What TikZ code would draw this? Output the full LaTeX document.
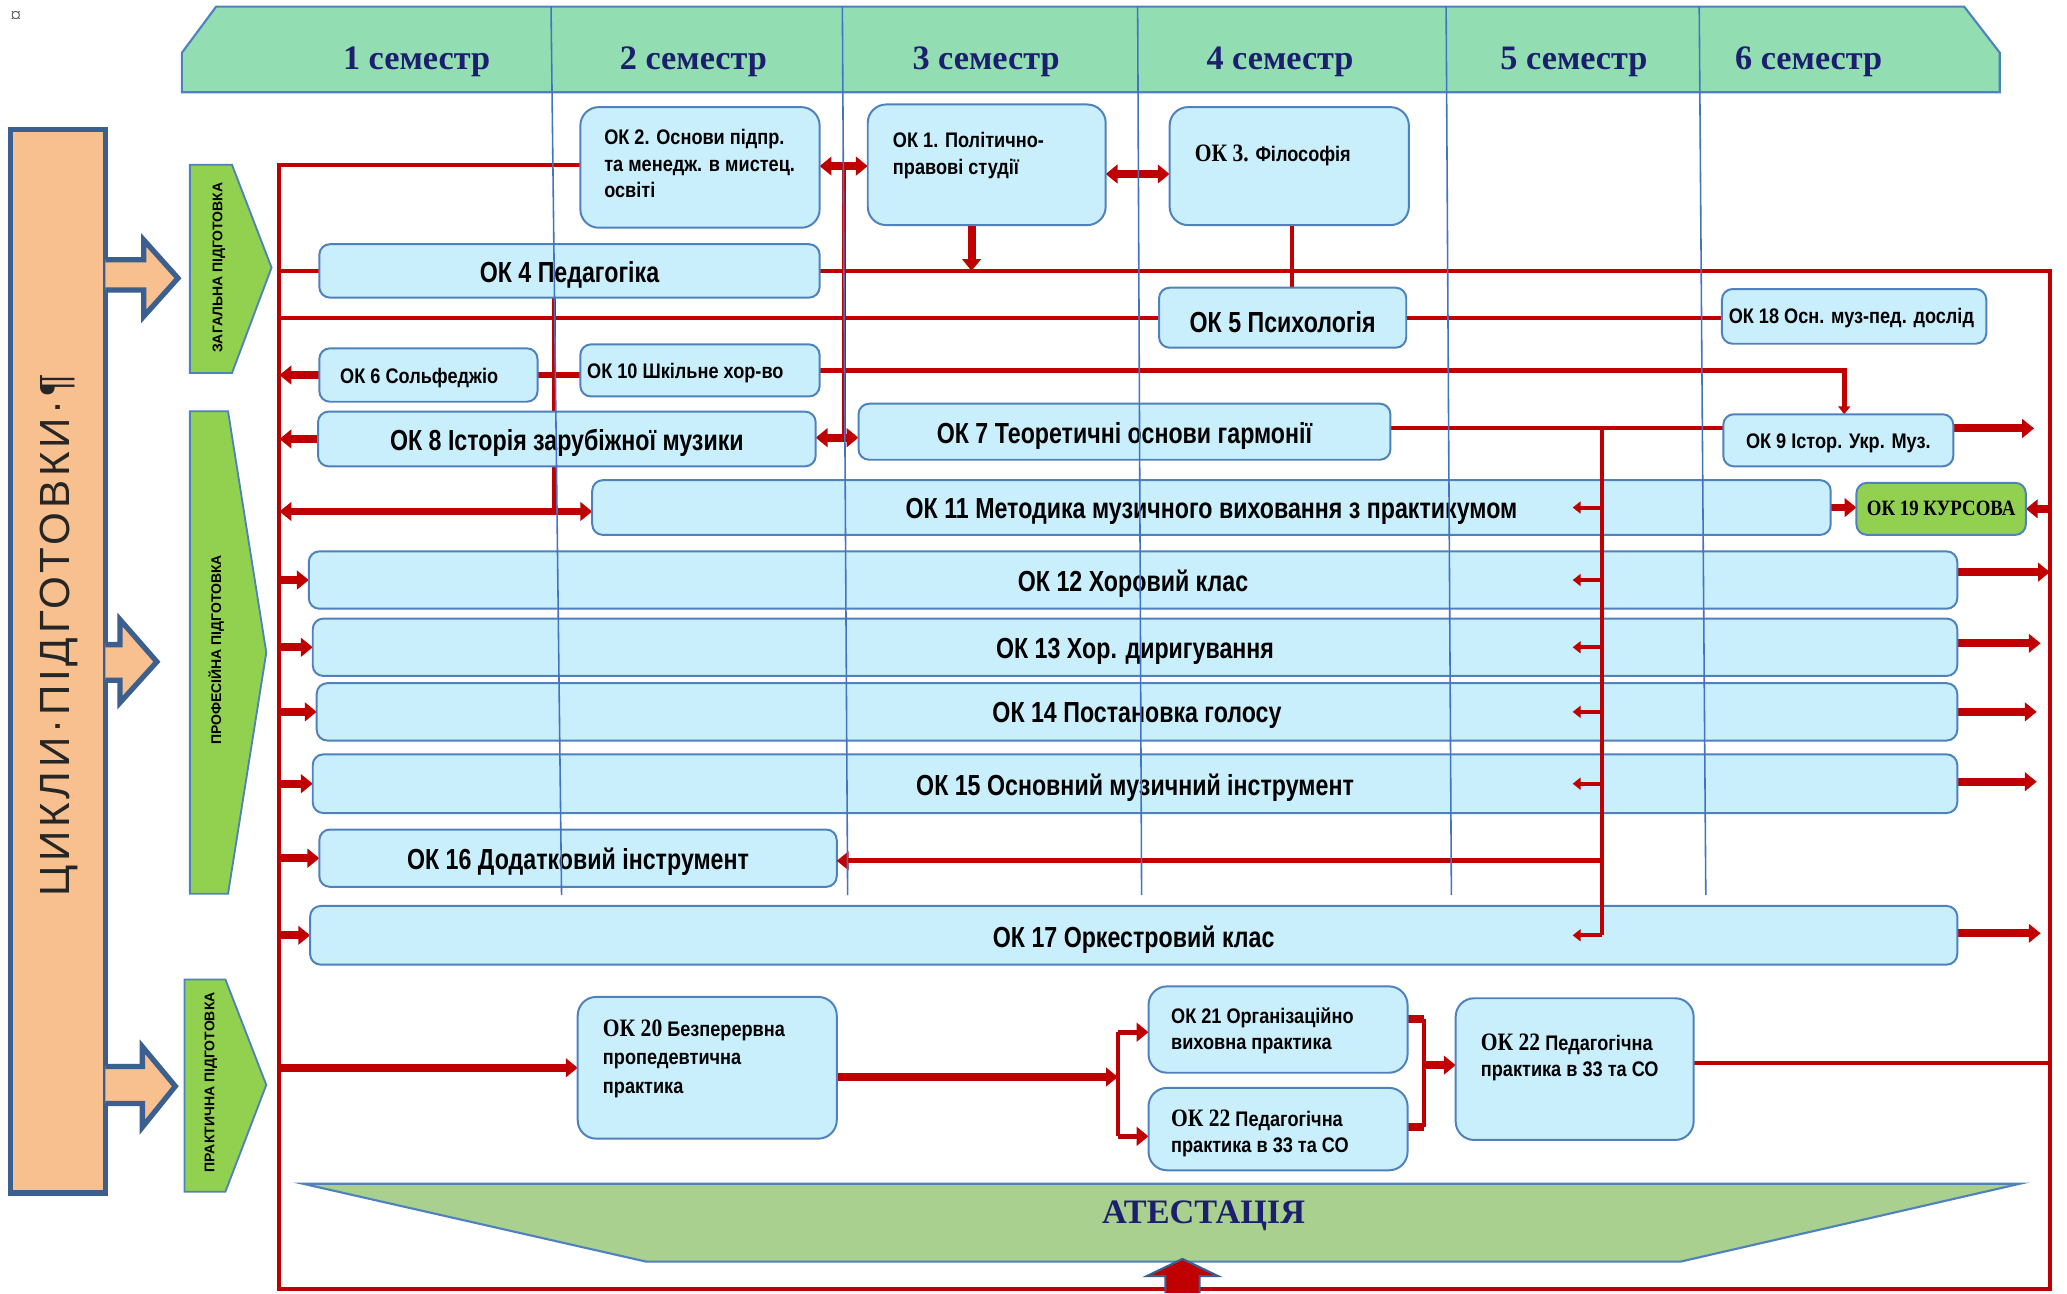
\documentclass[tikz,border=0pt]{standalone}
\usepackage{fontspec}
\setmainfont{Liberation Serif}
\setsansfont{Liberation Sans}
\newfontfamily\nar[FakeStretch=0.86]{Liberation Sans}
\newfontfamily\narA[FakeStretch=0.80]{Liberation Sans}
\newfontfamily\nars[FakeStretch=0.86]{Liberation Serif}
\newfontfamily\spaced[LetterSpace=9]{Liberation Sans}
\usetikzlibrary{arrows.meta,fit}
\definecolor{hdr}{HTML}{92DDB2}
\definecolor{bxf}{HTML}{C9EEFC}
\definecolor{bxd}{HTML}{4F81BD}
\definecolor{chv}{HTML}{92D050}
\definecolor{att}{HTML}{A9D08E}
\definecolor{pch}{HTML}{F8C08F}
\definecolor{pchd}{HTML}{3B5F8E}
\definecolor{rd}{HTML}{C00000}
\definecolor{nvy}{HTML}{1C1E6E}
\definecolor{coll}{HTML}{4472C4}
\newcommand\fntA{\narA\bfseries\fontsize{11}{13}\selectfont}
\newcommand\fntB{\nar\bfseries\fontsize{8}{10}\selectfont}
\newcommand\fntS{\nars\bfseries\fontsize{9.5}{10}\selectfont}
\newcommand\fntR{\nars\bfseries\fontsize{8.3}{10}\selectfont}
\newcommand\fntH{\rmfamily\bfseries\fontsize{13}{15}\selectfont}
\newcommand\fntV{\sffamily\bfseries\fontsize{5.3}{6}\selectfont}
\newcommand\fntC{\spaced\fontsize{16}{20}\selectfont}
\begin{document}
\begin{tikzpicture}[x=0.5pt,y=-0.5pt,
  box/.style={draw=bxd, fill=bxf, line width=0.75pt, rounded corners=4pt, inner sep=0pt},
  bbox/.style={box, rounded corners=7pt},
  gbox/.style={box, fill=chv},
  txt/.style={anchor=west, align=left, inner sep=0pt, font=\fntB},
  lab/.style={font=\fntA, yshift=-1.5pt},
  sem/.style={font=\fntH, text=nvy},
  vlab/.style={rotate=90, font=\fntV},
  rl/.style={draw=rd, line width=1.5pt},
  rm/.style={draw=rd, line width=2pt},
  rt/.style={draw=rd, line width=3pt},
  ar/.style={-{Triangle[length=4.5pt,width=7pt]}},
  sar/.style={-{Triangle[length=3pt,width=4.5pt]}},
  dar/.style={{Triangle[length=4.5pt,width=7pt]}-{Triangle[length=4.5pt,width=7pt]}}]
\useasboundingbox (0,0) rectangle (1568,981);
\fill[white] (0,0) rectangle (1568,981);

% anchor mark
\node[text=black!70, font=\rmfamily\fontsize{8}{8}\selectfont] (anch) at (12,13) {¤};

% header banner
\draw[bxd, fill=hdr, line width=0.8pt] (138,70) -- (138,40) -- (164,5) -- (1490,5) -- (1517,40) -- (1517,70) -- cycle;
\node[sem] (s1) at (316,47) {1 семестр};
\node[sem] (s2) at (526,47) {2 семестр};
\node[sem] (s3) at (748,47) {3 семестр};
\node[sem] (s4) at (971,47) {4 семестр};
\node[sem] (s5) at (1194,47) {5 семестр};
\node[sem] (s6) at (1372,47) {6 семестр};

% left panel
\draw[pchd, fill=pch, line width=2pt] (8,98) rectangle (80,905);
\node[rotate=90, font=\fntC, text=black!85] (cyc) at (45,482) {ЦИКЛИ·ПІДГОТОВКИ·¶};
\filldraw[pchd, fill=pch, line width=2pt] (80,197) -- (109,197) -- (109,182) -- (135,211) -- (109,240) -- (109,220) -- (80,220);
\filldraw[pchd, fill=pch, line width=2pt] (80,489) -- (91,489) -- (91,470) -- (119,502) -- (91,533) -- (91,516) -- (80,516);
\filldraw[pchd, fill=pch, line width=2pt] (80,809) -- (108,809) -- (108,794) -- (133,824) -- (108,855) -- (108,837) -- (80,837);

% chevrons
\draw[bxd, fill=chv, line width=0.7pt] (144,125) -- (176,125) -- (206,203) -- (176,283) -- (144,283) -- cycle;
\node[vlab] (zag) at (166,203) {ЗАГАЛЬНА ПІДГОТОВКА};
\draw[bxd, fill=chv, line width=0.7pt] (144,312) -- (173,312) -- (202,495) -- (173,678) -- (144,678) -- cycle;
\node[vlab] (prof) at (164,493) {ПРОФЕСІЙНА ПІДГОТОВКА};
\draw[bxd, fill=chv, line width=0.7pt] (140,743) -- (171,743) -- (202,823) -- (171,904) -- (140,904) -- cycle;
\node[vlab] (prak) at (160,821) {ПРАКТИЧНА ПІДГОТОВКА};

% helper coordinates
\coordinate (fTL) at (212,125);
\coordinate (fBL) at (212,978);
\coordinate (fBR) at (1555,978);
\coordinate (fTR) at (1555,205.5);
\foreach \v in {126,132,325,332,388,434,488,540,593,653,708,773,783,806,808,810,817,855,862}
  \coordinate (y\v) at (0,\v);
\foreach \v in {420,640,737,848,980,1080,1193,1215,1399,1543,1545,1548}
  \coordinate (x\v) at (\v,0);

% boxes
\node[bbox, fit={(441,82)(621,172)}] (ok2) {};
\node[bbox, fit={(659,80)(838,170)}] (ok1) {};
\node[bbox, fit={(888,82)(1068,170)}] (ok3) {};
\node[box, fit={(243,186)(621,225)}] (ok4) {};
\node[box, fit={(880,219)(1066,263)}] (ok5) {};
\node[box, fit={(1307,220)(1506,260)}] (ok18) {};
\node[box, fit={(243,265)(407,304)}] (ok6) {};
\node[box, fit={(441,262)(621,300)}] (ok10) {};
\node[box, fit={(242,313)(618,353)}] (ok8) {};
\node[box, fit={(652,307)(1054,348)}] (ok7) {};
\node[box, fit={(1308,315)(1481,353)}] (ok9) {};
\node[box, fit={(450,365)(1388,405)}] (ok11) {};
\node[gbox, fit={(1409,367)(1536,405)}] (ok19) {};
\node[box, fit={(235,419)(1484,461)}] (ok12) {};
\node[box, fit={(238,470)(1484,512)}] (ok13) {};
\node[box, fit={(241,519)(1484,561)}] (ok14) {};
\node[box, fit={(238,573)(1484,616)}] (ok15) {};
\node[box, fit={(243,630)(634,672)}] (ok16) {};
\node[box, fit={(236,688)(1484,731)}] (ok17) {};
\node[bbox, fit={(439,757)(634,863)}] (ok20) {};
\node[bbox, fit={(872,749)(1067,813)}] (ok21) {};
\node[bbox, fit={(872,826)(1067,887)}] (ok22a) {};
\node[bbox, fit={(1105,758)(1284,864)}] (ok22b) {};

% red connectors behind the boxes
\draw[rl] (ok2.west |- fTL) -- (fTL) -- (fBL) -- (fBR) -- (fTR) -- (ok4.east);
\draw[rl] (ok4.west) -- (ok4.west -| fTL);
\draw[rt,dar] (ok2.east |- y126) -- (ok1.west |- y126);
\draw[rt,dar] (ok1.east |- y132) -- (ok3.west |- y132);
\draw[rl] (x640 |- y126) -- (x640 |- y332);
\draw[rt,dar] (ok8.east |- y332) -- (ok7.west |- y332);
\draw[rt,ar] (ok1.south -| x737) -- (x737 |- fTR);
\draw[rl] (ok3.south -| x980) -- (ok5.north -| x980);
\draw[rl] (ok5.west) -- (ok5.west -| fTL);
\draw[rl] (ok5.east) -- (ok18.west |- ok5.east);
\draw[rl] (ok4.south -| x420) -- (x420 |- y388);
\draw[rt,ar] (ok6.west) -- (ok6.west -| fTL);
\draw[rm] (ok6.east) -- (ok6.east -| ok10.west);
\draw[rm,sar] (ok10.east) -- (ok10.east -| x1399) -- (x1399 |- ok9.north);
\draw[rt,ar] (ok8.west) -- (ok8.west -| fTL);
\draw[rt,dar] (ok11.west |- y388) -- (fTL |- y388);
\draw[rl] (ok7.east |- y325) -- (ok9.west |- y325);
\draw[rt,ar] (ok9.east |- y325) -- (x1543 |- y325);
\draw[rt,ar] (ok11.east) -- (ok11.east -| ok19.west);
\draw[rt,ar] (ok19.east -| fTR) -- (ok19.east);
\draw[rt,ar] (ok12.east |- y434) -- (fTR |- y434);
\draw[rt,ar] (ok13.east |- y488) -- (x1548 |- y488);
\draw[rt,ar] (ok14.east |- y540) -- (x1545 |- y540);
\draw[rt,ar] (ok15.east |- y593) -- (x1545 |- y593);
\draw[rt,ar] (ok17.east |- y708) -- (x1548 |- y708);
\foreach \n in {ok12,ok13,ok14,ok15,ok16,ok17}
  \draw[rt,ar] (fTL |- \n.west) -- (\n.west);
\draw[rt,ar] (fTL |- y810) -- (ok20.west |- y810);
\draw[rt,ar] (ok20.east |- y817) -- (x848 |- y817);
\draw[rl] (x848 |- y783) -- (x848 |- y862);
\draw[rm,ar] (x848 |- y783) -- (ok21.west |- y783);
\draw[rm,ar] (x848 |- y862) -- (ok22a.west |- y862);
\draw[rt] (ok21.east |- y773) -- (x1080 |- y773);
\draw[rt] (ok22a.east |- y855) -- (x1080 |- y855);
\draw[rl] (x1080 |- y773) -- (x1080 |- y855);
\draw[rt,ar] (x1080 |- y808) -- (ok22b.west |- y808);
\draw[rl] (ok22b.east |- y806) -- (fTR |- y806);

% redraw boxes on top of the red lines
\foreach \n/\s in {ok2/bbox,ok1/bbox,ok3/bbox,ok20/bbox,ok21/bbox,ok22a/bbox,ok22b/bbox}
  \draw[\s] (\n.south west) rectangle (\n.north east);
\foreach \n in {ok4,ok5,ok18,ok6,ok10,ok8,ok7,ok9,ok11,ok12,ok13,ok14,ok15,ok16,ok17}
  \draw[box] (\n.south west) rectangle (\n.north east);
\draw[gbox] (ok19.south west) rectangle (ok19.north east);

% box texts
\node[lab] (t4) at (ok4) {ОК 4 Педагогіка};
\node[lab] (t5) at (ok5) {ОК 5 Психологія};
\node[font=\fntB, xshift=-3.5pt, yshift=-1pt] (t6) at (ok6) {ОК 6 Сольфеджіо};
\node[lab] (t8) at (ok8) {ОК 8 Історія зарубіжної музики};
\node[lab] (t7) at (ok7) {ОК 7 Теоретичні основи гармонії};
\node[font=\fntB, yshift=-1pt] (t9) at (ok9) {ОК 9 Істор. Укр. Муз.};
\node[lab] (t11) at (ok11) {ОК 11 Методика музичного виховання з практикумом};
\node[font=\fntR] (t19) at (ok19) {ОК 19 КУРСОВА};
\node[lab] (t12) at (ok12) {ОК 12 Хоровий клас};
\node[lab] (t13) at (ok13) {ОК 13 Хор. диригування};
\node[lab] (t14) at (ok14) {ОК 14 Постановка голосу};
\node[lab] (t15) at (ok15) {ОК 15 Основний музичний інструмент};
\node[lab] (t16) at (ok16) {ОК 16 Додатковий інструмент};
\node[lab] (t17) at (ok17) {ОК 17 Оркестровий клас};
\node[txt] (t2) at (458,124) {ОК 2. Основи підпр.\\та менедж. в мистец.\\освіті};
\node[txt] (t1) at (677,118) {ОК 1. Політично-\\правові студії};
\node[txt] (t3) at (906,118) {{\fntS ОК 3.} Філософія};
\node[txt] (t18) at (1311,241) {ОК 18 Осн. муз-пед. дослід};
\node[txt] (t10) at (445,283) {ОК 10 Шкільне хор-во};
\node[txt, font=\nar\bfseries\fontsize{8}{10.75}\selectfont] (t20) at (457,803) {{\fntS ОК 20} Безперервна\\пропедевтична\\практика};
\node[txt] (t21) at (888,782) {ОК 21 Організаційно\\виховна практика};
\node[txt] (t22a) at (888,860) {{\fntS ОК 22} Педагогічна\\практика в 33 та СО};
\node[txt] (t22b) at (1123,802) {{\fntS ОК 22} Педагогічна\\практика в 33 та СО};

% connectors drawn over the long bars
\draw[rl] (x1215 |- y325) -- (x1215 |- ok17.west);
\foreach \n in {ok11,ok12,ok13,ok14,ok15,ok17}
  \draw[rl,sar] (x1215 |- \n.west) -- (x1193 |- \n.west);
\draw[rm,ar] (x1215 |- y653) -- (ok16.east |- y653);

% semester column lines
\foreach \a/\b in {418/426,639/643,863/866,1097/1101,1289/1294}
  \draw[coll, line width=0.6pt] (\a,5) -- (\b,679);

% attestation
\draw[bxd, fill=att, line width=0.8pt] (230,898) -- (1532,898) -- (1275,957) -- (490,957) -- cycle;
\node[font=\fntH, text=nvy] (att) at (913,922) {АТЕСТАЦІЯ};
\filldraw[draw=pchd, fill=rd, line width=0.8pt] (884,981) -- (884,968) -- (870,968) -- (897,955) -- (924,968) -- (910,968) -- (910,981);
\end{tikzpicture}
\end{document}
